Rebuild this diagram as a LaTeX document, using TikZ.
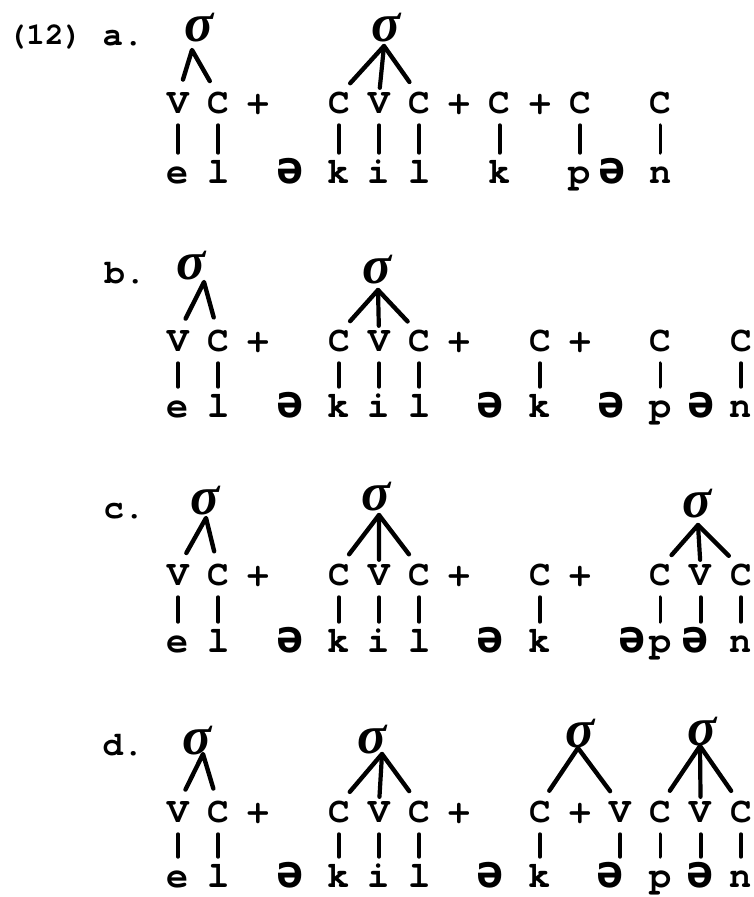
\documentclass[tikz,border=0pt]{standalone}
\usepackage{amsmath}
\usepackage{fontspec}
\setmainfont{TeX Gyre Cursor}
\newfontfamily\schwafont{DejaVu Sans Mono}
\newfontfamily\sigmafont{Liberation Serif}
\usetikzlibrary{calc,positioning}

\newcommand{\colx}[1]{178+40.2*#1}

\tikzset{
  seg/.style={font=\bfseries\fontsize{36}{36}\selectfont, inner sep=0pt, anchor=base, text height=17pt, text depth=0pt},
  seglow/.style={font=\bfseries\fontsize{37}{37}\selectfont, inner sep=0pt, anchor=base, text height=20pt, text depth=0pt},
  schwa/.style={font=\schwafont\bfseries\fontsize{45}{45}\selectfont, inner sep=0pt, anchor=base, text height=20pt, text depth=0pt},
  syl/.style={font=\sigmafont\bfseries\itshape\fontsize{54}{54}\selectfont, inner sep=0pt},
  lab/.style={font=\bfseries\fontsize{34}{34}\selectfont, inner sep=0pt, anchor=base},
  assoc/.style={line width=3.8pt, line cap=round, shorten <=12pt, shorten >=10pt},
  branch/.style={line width=4.4pt, line cap=round, line join=round, shorten <=17pt, shorten >=17pt},
  stem/.style={line width=4.2pt, line cap=round, shorten >=8pt},
}

\begin{document}
\begin{tikzpicture}[x=1pt,y=-1pt]
\useasboundingbox (0,0) rectangle (753,897);

% example number and row labels
\node[lab, font=\bfseries\fontsize{31}{31}\selectfont] (num) at (45,44) {(12)};
\node[lab] (la) at (123,45) {a.};
\node[lab] (lb) at (125,283) {b.};
\node[lab] (lc) at (124,518) {c.};
\node[lab] (ld) at (123,755) {d.};

% row a
\foreach \c/\sym in {0/V,1/C,2/+,4/C,5/V,6/C,7/+,8/C,9/+,10/C,12/C}
  \node[seg] (ta\c) at ({\colx{\c}},113) {\sym};
\foreach \c/\sym in {0/e,1/l,4/k,5/i,6/l,8/k,10/p,12/n}
  \node[seglow] (ba\c) at ({\colx{\c}},183) {\sym};
\node[schwa] (bas1) at (290,183) {ə};
\node[schwa] (bas2) at (612,183) {ə};
\foreach \c in {0,1,4,5,6,8,10,12}
  \draw[assoc] (ta\c.south) -- (ba\c.north);
\node[syl] (sa1) at (199,28) {σ};
\node[syl] (sa2) at (386,28) {σ};
\coordinate (pa1) at (192,50);
\coordinate (pa2) at (384,46);
\draw[branch] (ta0.north) -- (pa1) -- (ta1.north);
\draw[branch] (ta4.north) -- (pa2) -- (ta6.north);
\draw[stem] (pa2) -- (ta5.north);

% row b
\foreach \c/\sym in {0/V,1/C,2/+,4/C,5/V,6/C,7/+,9/C,10/+,12/C,14/C}
  \node[seg] (tb\c) at ({\colx{\c}},351) {\sym};
\foreach \c/\sym in {0/e,1/l,4/k,5/i,6/l,9/k,12/p,14/n}
  \node[seglow] (bb\c) at ({\colx{\c}},417) {\sym};
\node[schwa] (bbs1) at (290,417) {ə};
\node[schwa] (bbs2) at (490,417) {ə};
\node[schwa] (bbs3) at (611,417) {ə};
\node[schwa] (bbs4) at (701,417) {ə};
\foreach \c in {0,1,4,5,6,9,12,14}
  \draw[assoc] (tb\c.south) -- (bb\c.north);
\node[syl] (sb1) at (191,266) {σ};
\node[syl] (sb2) at (377,270) {σ};
\coordinate (pb1) at (204,282);
\coordinate (pb2) at (378,290);
\draw[branch] (tb0.north) -- (pb1) -- (tb1.north);
\draw[branch] (tb4.north) -- (pb2) -- (tb6.north);
\draw[stem] (pb2) -- (tb5.north);

% row c
\foreach \c/\sym in {0/V,1/C,2/+,4/C,5/V,6/C,7/+,9/C,10/+,12/C,13/V,14/C}
  \node[seg] (tc\c) at ({\colx{\c}},585) {\sym};
\foreach \c/\sym in {0/e,1/l,4/k,5/i,6/l,9/k,12/p,14/n}
  \node[seglow] (bc\c) at ({\colx{\c}},652) {\sym};
\node[schwa] (bcs1) at (290,652) {ə};
\node[schwa] (bcs2) at (490,652) {ə};
\node[schwa] (bcs3) at (632,652) {ə};
\node[schwa] (bc13) at (695,652) {ə};
\foreach \c in {0,1,4,5,6,9,12,14}
  \draw[assoc] (tc\c.south) -- (bc\c.north);
\draw[assoc] (tc13.south) -- (bc13.north -| tc13);
\node[syl] (sc1) at (205,501) {σ};
\node[syl] (sc2) at (376,497) {σ};
\node[syl] (sc3) at (697,504) {σ};
\coordinate (pc1) at (206,518);
\coordinate (pc2) at (379,515);
\coordinate (pc3) at (698,525);
\draw[branch] (tc0.north) -- (pc1) -- (tc1.north);
\draw[branch] (tc4.north) -- (pc2) -- (tc6.north);
\draw[stem] (pc2) -- (tc5.north);
\draw[branch] (tc12.north) -- (pc3) -- (tc14.north);
\draw[stem] (pc3) -- (tc13.north);

% row d
\foreach \c/\sym in {0/V,1/C,2/+,4/C,5/V,6/C,7/+,9/C,10/+,11/V,12/C,13/V,14/C}
  \node[seg] (td\c) at ({\colx{\c}},822) {\sym};
\foreach \c/\sym in {0/e,1/l,4/k,5/i,6/l,9/k,12/p,14/n}
  \node[seglow] (bd\c) at ({\colx{\c}},887) {\sym};
\node[schwa] (bds1) at (290,887) {ə};
\node[schwa] (bds2) at (490,887) {ə};
\node[schwa] (bd11) at (610,887) {ə};
\node[schwa] (bd13) at (700,887) {ə};
\foreach \c in {0,1,4,5,6,9,12,14}
  \draw[assoc] (td\c.south) -- (bd\c.north);
\draw[assoc] (td11.south) -- (bd11.north -| td11);
\draw[assoc] (td13.south) -- (bd13.north -| td13);
\node[syl] (sd1) at (197,741) {σ};
\node[syl] (sd2) at (372,740) {σ};
\node[syl] (sd3) at (580,734) {σ};
\node[syl] (sd4) at (702,732) {σ};
\coordinate (pd1) at (203,754);
\coordinate (pd2) at (382,754);
\coordinate (pd3) at (578,748);
\coordinate (pd4) at (700,746);
\draw[branch] (td0.north) -- (pd1) -- (td1.north);
\draw[branch] (td4.north) -- (pd2) -- (td6.north);
\draw[stem] (pd2) -- (td5.north);
\draw[branch] (td9.north) -- (pd3) -- (td11.north);
\draw[branch] (td12.north) -- (pd4) -- (td14.north);
\draw[stem] (pd4) -- (td13.north);
\end{tikzpicture}
\end{document}
